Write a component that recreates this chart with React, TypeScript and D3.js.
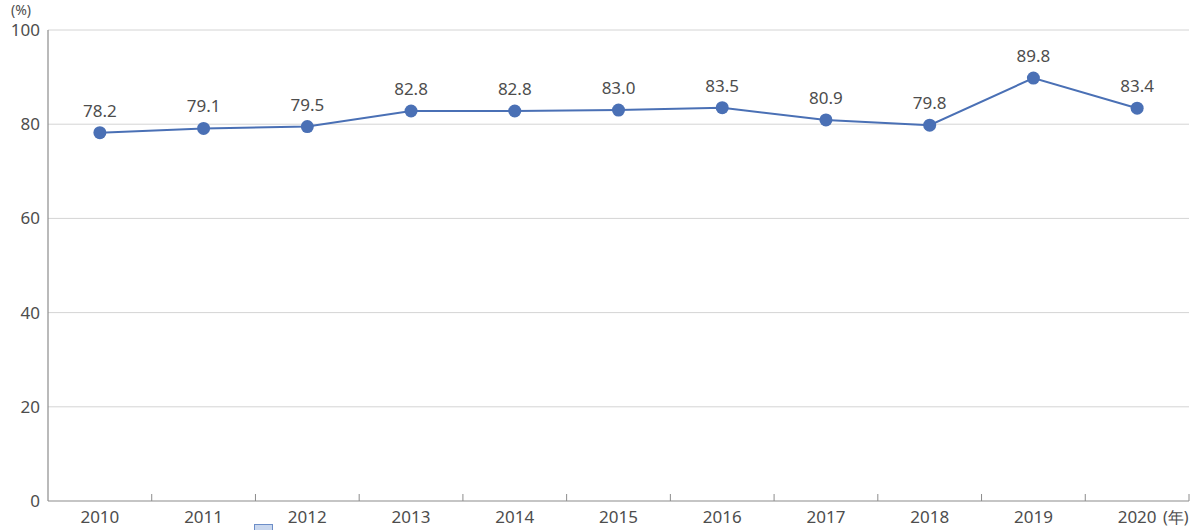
import React from "react";
import * as d3 from "d3";

const years = ["2010","2011","2012","2013","2014","2015","2016","2017","2018","2019","2020"];
const values = [78.2,79.1,79.5,82.8,82.8,83.0,83.5,80.9,79.8,89.8,83.4];
const yTicks = [0,20,40,60,80,100];

const W = 1198, H = 530;
const left = 48, right = 1189, top = 30, bottom = 501;

export default function App() {
  const x = d3.scaleBand().domain(years).range([left, right]);
  const y = d3.scaleLinear().domain([0, 100]).range([bottom, top]);
  const line = d3.line<number>()
    .x((_, i) => (x(years[i]) as number) + x.bandwidth() / 2)
    .y((d) => y(d));
  const font = "'Noto Sans', 'Open Sans', sans-serif";
  const textColor = "#4d4d4d";
  const bounds = years.map((yr) => (x(yr) as number) + x.bandwidth());
  return (
    <svg width={W} height={H} style={{ position: "absolute", left: 0, top: 0, display: "block" }} fontFamily={font}>
      <rect width={W} height={H} fill="#fff" />
      {yTicks.filter((t) => t > 0).map((t) => (
        <line key={t} x1={left} x2={right} y1={y(t)} y2={y(t)} stroke="#d4d4d4" strokeWidth={1} />
      ))}
      <line x1={left} x2={left} y1={top} y2={bottom} stroke="#8c8c8c" strokeWidth={1.2} />
      <line x1={left} x2={right} y1={bottom} y2={bottom} stroke="#8c8c8c" strokeWidth={1.2} />
      {bounds.map((b, i) => (
        <line key={i} x1={b} x2={b} y1={bottom} y2={bottom - 7} stroke="#8c8c8c" strokeWidth={1} />
      ))}
      {yTicks.map((t) => (
        <text key={t} x={40} y={y(t)} dy="0.35em" textAnchor="end" fontSize={17} fill={textColor}>{t}</text>
      ))}
      <text x={11} y={15} fontSize={14} fill={textColor}>(%)</text>
      {years.map((yr) => (
        <text key={yr} x={(x(yr) as number) + x.bandwidth() / 2} y={523} textAnchor="middle" fontSize={17} fill={textColor}>{yr}</text>
      ))}
      <text x={1163} y={523} fontSize={16} fill={textColor}>(年)</text>
      <path d={line(values) || ""} fill="none" stroke="#4a70b5" strokeWidth={2} />
      {values.map((v, i) => {
        const cx = (x(years[i]) as number) + x.bandwidth() / 2;
        return (
          <g key={i}>
            <circle cx={cx} cy={y(v)} r={6.5} fill="#4a70b5" />
            <text x={cx} y={y(v) - 16} textAnchor="middle" fontSize={17} fill={textColor}>{v.toFixed(1)}</text>
          </g>
        );
      })}
      <rect x={254.5} y={524.5} width={18} height={10} fill="#c9d7ee" stroke="#6d8ec8" strokeWidth={1} />
    </svg>
  );
}
